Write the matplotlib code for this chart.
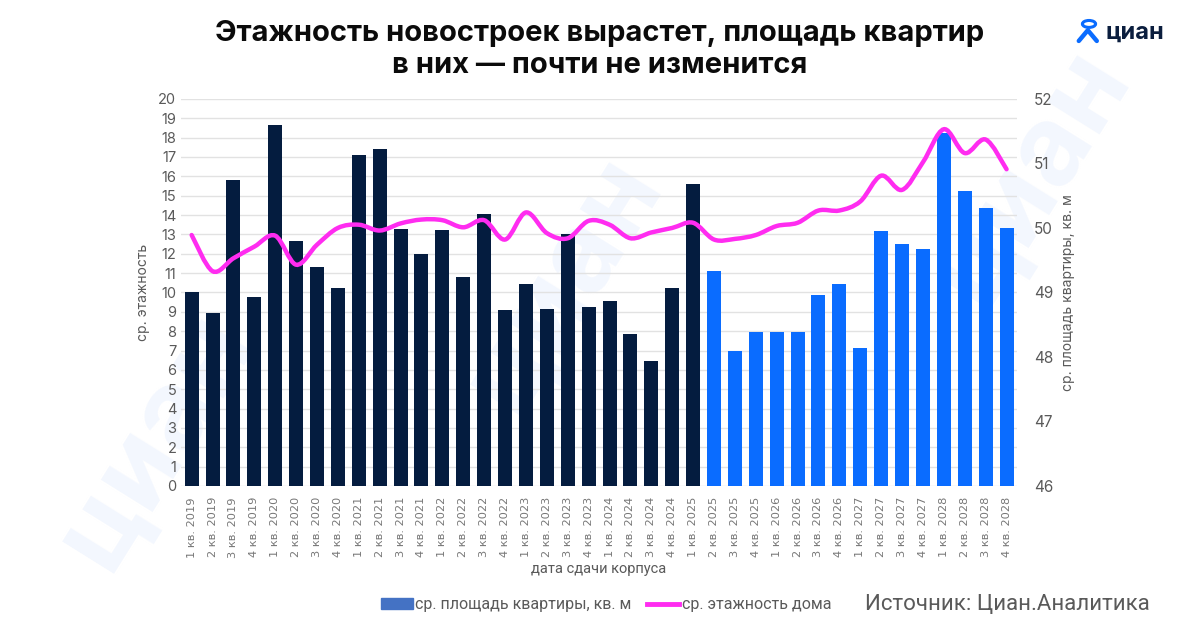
import numpy as np
import matplotlib.pyplot as plt
from matplotlib.path import Path
from matplotlib.patches import PathPatch, Patch, Circle
from matplotlib.lines import Line2D

plt.rcParams['font.family'] = ['Inter', 'DejaVu Sans']

# quarters 1 кв. 2019 .. 4 кв. 2028
years = list(range(2019, 2029))
quarters = [f"{q} кв. {y}" for y in years for q in range(1, 5)]

# bars, left axis
bar_values = [10.0, 8.95, 15.8, 9.75,
              18.65, 12.65, 11.3, 10.25,
              17.1, 17.4, 13.3, 12.0,
              13.25, 10.8, 14.05, 9.1,
              10.45, 9.15, 13.0, 9.25,
              9.55, 7.85, 6.45, 10.25,
              15.6, 11.1, 7.0, 7.95,
              7.95, 7.95, 9.85, 10.45,
              7.15, 13.2, 12.5, 12.25,
              18.25, 15.25, 14.35, 13.35]

# line, right axis
line_values = [49.89, 49.33, 49.53, 49.71, 49.88, 49.43, 49.74, 50.0,
               50.05, 49.96, 50.07, 50.13, 50.12, 50.01, 50.12, 49.82,
               50.24, 49.92, 49.84, 50.11, 50.05, 49.84, 49.93, 50.0,
               50.08, 49.82, 49.83, 49.89, 50.03, 50.08, 50.27, 50.27,
               50.41, 50.81, 50.59, 51.02, 51.53, 51.16, 51.37, 50.91]

n_actual = 25  # up to 1 кв. 2025 — dark bars

dark = '#041c3f'
blue = '#0a6cff'
magenta = '#ff2cf0'
grey = '#5a5a5a'

fig = plt.figure(figsize=(12, 6.3), dpi=100)

# faint watermarks
for (x, y) in [(0.13, 0.3), (0.47, 0.55), (0.86, 0.72)]:
    fig.text(x, y, 'циан', fontsize=80, color='#f3f7fe', rotation=58,
             ha='center', va='center', fontweight='bold', zorder=0)

ax = fig.add_axes([0.151, 0.2286, 0.6965, 0.6144])
ax.set_zorder(2)
ax.patch.set_alpha(0)
x = np.arange(len(quarters))
colors = [dark if i < n_actual else blue for i in range(len(quarters))]
ax.bar(x, bar_values, width=0.67, color=colors, zorder=2)
ax.set_xlim(-0.5, len(quarters) - 0.5)
ax.set_ylim(0, 20)
ax.set_yticks(range(0, 21))
ax.grid(axis='y', color='#e2e2e2', linewidth=1, zorder=0)
ax.set_axisbelow(True)
for sp in ax.spines.values():
    sp.set_visible(False)
ax.tick_params(axis='both', length=0, colors=grey, labelsize=10.5)
ax.set_xticks(x)
ax.set_xticklabels(quarters, rotation=90, fontsize=8.2, color='#777777',
                   family=['DejaVu Sans'])
ax.tick_params(axis='x', pad=8)
ax.set_ylabel('ср. этажность', color=grey, fontsize=10, labelpad=6)
ax.set_xlabel('дата сдачи корпуса', color=grey, fontsize=10.5,
              family=['Roboto'])
ax.xaxis.set_label_coords(0.5, -0.197)

ax2 = ax.twinx()
ax2.set_ylim(46, 52)
ax2.set_yticks(range(46, 53))
for sp in ax2.spines.values():
    sp.set_visible(False)
ax2.tick_params(axis='y', length=0, colors=grey, labelsize=11, pad=12)
ax2.set_ylabel('ср. площадь квартиры, кв. м', color=grey, fontsize=10,
               labelpad=6)

# smooth curve through the data points (Catmull-Rom as cubic Bezier)
pts = np.column_stack([x, line_values]).astype(float)
verts = [pts[0]]
codes = [Path.MOVETO]
for i in range(len(pts) - 1):
    p0 = pts[i - 1] if i > 0 else pts[i]
    p1 = pts[i]
    p2 = pts[i + 1]
    p3 = pts[i + 2] if i + 2 < len(pts) else pts[i + 1]
    verts += [p1 + (p2 - p0) / 6, p2 - (p3 - p1) / 6, p2]
    codes += [Path.CURVE4] * 3
ax2.add_patch(PathPatch(Path(verts, codes), fill=False, edgecolor=magenta,
                        linewidth=3.2, capstyle='round', zorder=3))

# legend
handles = [Patch(color='#4472c4', label='ср. площадь квартиры, кв. м'),
           Line2D([0], [0], color=magenta, lw=3.5, label='ср. этажность дома')]
fig.legend(handles=handles, loc='center', bbox_to_anchor=(0.505, 0.04),
           ncol=2, frameon=False, handlelength=2.0,
           handletextpad=0.15, columnspacing=1.0, labelcolor=grey,
           prop={'family': 'Roboto', 'size': 11.5})
fig.text(0.958, 0.04, 'Источник: Циан.Аналитика', ha='right', va='center',
         fontsize=16, color=grey, family=['Roboto'])

# title
fig.text(0.5, 0.922, 'Этажность новостроек вырастет, площадь квартир\nв них — почти не изменится',
         ha='center', va='center', fontsize=21, fontweight='bold',
         color='#0b0b0b', linespacing=1.25)

# logo
fig.text(0.921, 0.948, 'циан', ha='left', va='center', fontsize=17,
         fontweight='bold', color='#0b1e3e')
fig.patches.append(Circle((0.9075, 0.962), 0.0055, transform=fig.transFigure,
                          fill=False, edgecolor=blue, lw=2.2))
fig.lines.append(Line2D([0.899, 0.9065, 0.914], [0.935, 0.952, 0.935],
                        transform=fig.transFigure, color=blue, lw=3.2,
                        solid_capstyle='round'))

fig.savefig('out.png', dpi=100)
